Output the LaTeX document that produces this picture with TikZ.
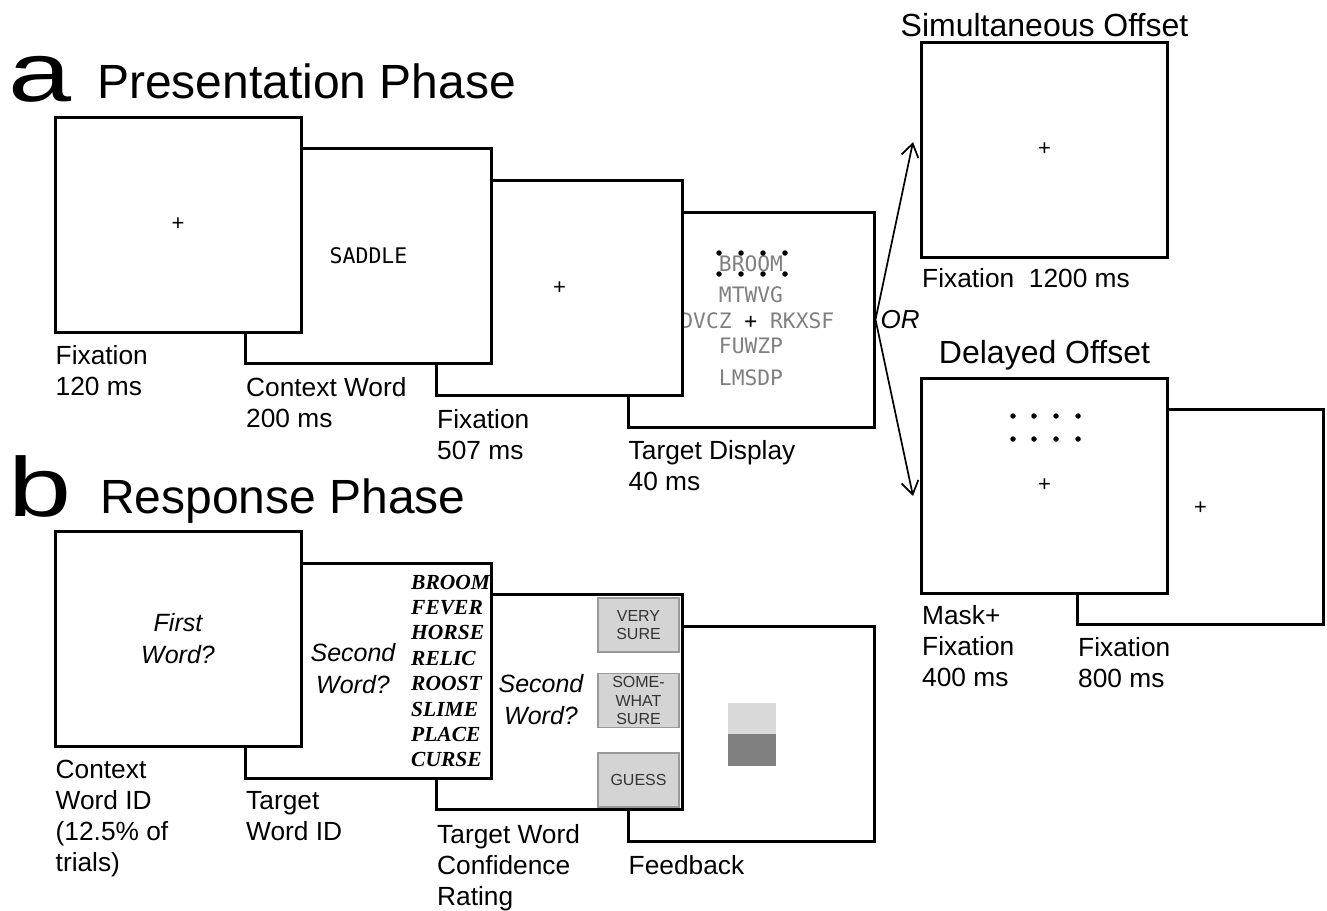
\documentclass[tikz,border=0pt]{standalone}
\usepackage{fontspec}
\usepackage{graphicx}
\usepackage{xcolor}
\usepackage{tikz}
\setmainfont{Liberation Sans}
\newfontfamily\monofont{DejaVu Sans Mono}
\newfontfamily\wordfont{Liberation Serif}
\definecolor{DisplayGray}{rgb}{0.5, 0.5, 0.5}
\definecolor{ButtonFill}{rgb}{0.83, 0.83, 0.83}
\definecolor{ButtonLine}{rgb}{0.6, 0.6, 0.6}
\definecolor{FeedLight}{rgb}{0.85, 0.85, 0.85}
\definecolor{FeedDark}{rgb}{0.5, 0.5, 0.5}
\usetikzlibrary{positioning,arrows.meta}
\newcommand{\fs}[2]{\fontsize{#1}{#2}\selectfont}
\tikzset{
    screen/.style={draw, line width=3pt, fill=white, minimum width=246pt, minimum height=215pt, inner sep=0pt},
    lbl/.style={font=\fs{26.3}{31}, align=left, inner sep=0pt},
    ask/.style={font=\fs{25}{32}\itshape, align=center, inner sep=0pt},
    fix/.style={font=\fs{22}{24}, inner sep=0pt},
    disp/.style={font=\fs{21.3}{24}\monofont, text=DisplayGray, inner sep=0pt},
    phase/.style={font=\fs{48}{56}, inner sep=0pt},
    panel/.style={font=\fs{84}{90}, inner sep=0pt},
    offset/.style={font=\fs{32}{36}, inner sep=0pt},
    button/.style={draw=ButtonLine, fill=ButtonFill, line width=1.2pt, minimum width=81pt, minimum height=54pt, inner sep=0pt, align=center, font=\fs{16}{18.5}, text=black!80},
    cue/.style={fill, circle, inner sep=0pt, minimum size=5.5pt},
    branch/.style={-{Straight Barb[length=13pt,width=17pt]}, line width=1.7pt}
}
\begin{document}
\begin{tikzpicture}[x=1pt,y=-1pt]
    \useasboundingbox (0,0) rectangle (1327,910);

    % Panel letters and phase titles
    \node[panel, anchor=base west] (la) at (8,101) {\scalebox{1.35}[1]{a}};
    \node[phase, anchor=base west] (ta) at (97,98) {Presentation Phase};
    \node[panel, anchor=base west] (lb) at (8,516) {\scalebox{1.35}[1]{b}};
    \node[phase, anchor=base west] (tb) at (100,513) {Response Phase};

    % Draw the presentation screens, last one first
    \node[screen] (p4) at (751,319.5) {};
    \node[disp] (t0) at (751,264) {BROOM};
    \node[disp] (t1) at (751,295) {MTWVG};
    \node[disp] (t2) at (757.3,321) {DVCZ {\color{black}+} RKXSF};
    \node[disp] (t3) at (751,346) {FUWZP};
    \node[disp] (t4) at (751,378) {LMSDP};
    \foreach \x in {719, 741, 763, 785}{
        \node[cue] at (\x,253) {};
        \node[cue] at (\x,274) {};
    }
    \node[screen] (p3) at (559.5,288) {};
    \node[fix] at (p3) {+};
    \node[screen] (p2) at (368.5,256) {};
    \node[font=\fs{21.5}{24}\monofont, inner sep=0pt] (ctx) at (p2) {SADDLE};
    \node[screen] (p1) at (178,224.5) {};
    \node[fix] at (p1) {+};

    % labels under the presentation screens
    \node[lbl, below right=12pt and 2pt of p1.south west] (l1) {Fixation\\120 ms};
    \node[lbl, below right=12pt and 2pt of p2.south west] (l2) {Context Word\\200 ms};
    \node[lbl, below right=12pt and 2pt of p3.south west] (l3) {Fixation\\507 ms};
    \node[lbl, below right=12pt and 2pt of p4.south west] (l4) {Target Display\\40 ms};

    % Simultaneous offset
    \node[screen] (s1) at (1044.5,149.5) {};
    \node[fix] at (s1) {+};
    \node[offset, above=3pt of s1.north] (ts) {Simultaneous Offset};
    \node[lbl, below right=10pt and 2pt of s1.south west] (ls) {Fixation~~1200 ms};

    % Delayed offset
    \node[screen] (d2) at (1200.5,516.5) {};
    \node[fix] at ([yshift=8pt]d2.center) {+};
    \node[screen] (d1) at (1044.5,485.5) {};
    \node[fix] at (d1) {+};
    \foreach \x in {1013, 1034, 1056, 1078}{
        \node[cue] at (\x,416) {};
        \node[cue] at (\x,439) {};
    }
    \node[offset, above=6pt of d1.north] (td) {Delayed Offset};
    \node[lbl, below right=11pt and 2pt of d1.south west] (ld1) {Mask+\\Fixation\\400 ms};
    \node[lbl, below right=12pt and 2pt of d2.south west] (ld2) {Fixation\\800 ms};

    % Draw the two branches
    \coordinate (up) at (913,142);
    \coordinate (down) at (913,496);
    \draw[branch] (p4.east) -- (up);
    \draw[branch] (p4.east) -- (down);
    \node[lbl, font=\fs{26}{31}\itshape, right=5pt of p4.east] (or) {OR};

    % Draw the response screens, last one first
    \node[screen] (r4) at (751,733.5) {};
    \node[fill=FeedLight, minimum width=48pt, minimum height=31pt, inner sep=0pt] (fb1) at (752,718.5) {};
    \node[fill=FeedDark, minimum width=48pt, minimum height=32pt, inner sep=0pt, below=0pt of fb1] (fb2) {};
    \node[screen] (r3) at (559.5,702) {};
    \node[ask] (q3) at (541,700) {Second\\Word?};
    \node[button] (b1) at (638.5,625) {VERY\\SURE};
    \node[button] (b2) at (638.5,700.5) {SOME-\\WHAT\\SURE};
    \node[button] (b3) at (638.5,780) {GUESS};
    \node[screen] (r2) at (368.5,670.5) {};
    \node[ask] (q2) at (353,669) {Second\\Word?};
    \foreach \w[count=\c] in {BROOM, FEVER, HORSE, RELIC, ROOST, SLIME, PLACE, CURSE}{
        \node[font=\fs{21.5}{24}\wordfont\bfseries\itshape, inner sep=0pt, anchor=base west] (w\c) at (411,{563.6+25.4*\c}) {\w};
    }
    \node[screen] (r1) at (178,638.5) {};
    \node[ask] (q1) at (r1) {First\\Word?};

    % labels under the response screens
    \node[lbl, below right=12pt and 2pt of r1.south west] (m1) {Context\\Word ID\\(12.5\% of\\trials)};
    \node[lbl, below right=12pt and 2pt of r2.south west] (m2) {Target\\Word ID};
    \node[lbl, below right=13pt and 2pt of r3.south west] (m3) {Target Word\\Confidence\\Rating};
    \node[lbl, below right=13pt and 2pt of r4.south west] (m4) {Feedback};
\end{tikzpicture}
\end{document}
